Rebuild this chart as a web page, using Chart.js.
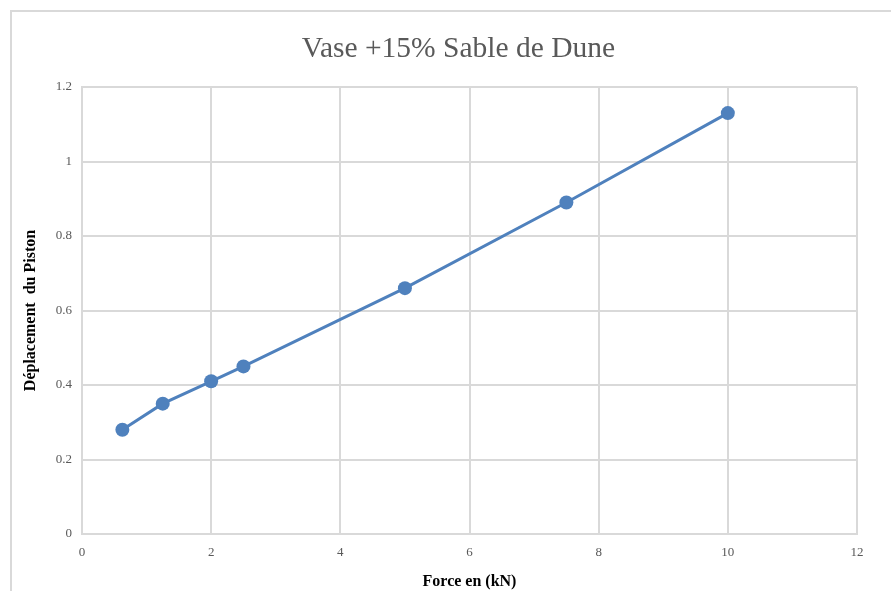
<!DOCTYPE html>
<html>
<head>
<meta charset="utf-8">
<script src="https://cdn.jsdelivr.net/npm/chart.js@4/dist/chart.umd.min.js"></script>
<style>
  html, body { margin: 0; padding: 0; background: #fff; overflow: hidden; }
  #frame {
    position: absolute; left: 10px; top: 10px; width: 1000px; height: 700px;
    border: 2px solid #d9d9d9; box-sizing: border-box;
  }
  #wrap { position: absolute; left: 0; top: 0; width: 891px; height: 591px; }
</style>
</head>
<body>
<div id="frame"></div>
<div id="wrap"><canvas id="vase-chart"></canvas></div>
<script>
// données
const forces = [0.625, 1.25, 2, 2.5, 5, 7.5, 10];
const deplacements = [0.28, 0.35, 0.41, 0.45, 0.66, 0.89, 1.13];

const blue = "#4f81bd";
const gridGray = "#d9d9d9";
const serif = "'Liberation Serif', 'Times New Roman', serif";

const points = forces.map((f, i) => ({ x: f, y: deplacements[i] }));

const cnv = "vase-chart";
new Chart(cnv, {
  type: "scatter",
  data: {
    datasets: [
      {
        label: "Vase +15% Sable de Dune",
        data: points,
        showLine: true,
        borderColor: blue,
        backgroundColor: blue,
        borderWidth: 3,
        pointRadius: 7,
        pointHoverRadius: 7,
        pointBorderWidth: 0
      }
    ]
  },
  options: {
    responsive: true,
    maintainAspectRatio: false,
    animation: false,
    layout: { padding: { left: 21, right: 34, top: 0, bottom: 0 } },
    plugins: {
      legend: { display: false },
      tooltip: { enabled: false },
      title: {
        display: true,
        fullSize: false, // centré sur la zone du graphe
        text: "Vase +15% Sable de Dune   ",
        color: "#595959",
        font: { family: serif, size: 29.5, weight: "normal" },
        padding: { top: 32, bottom: 19.6 }
      }
    },
    scales: {
      x: {
        type: "linear",
        min: 0,
        max: 12,
        ticks: {
          stepSize: 2,
          color: "#595959",
          padding: 11,
          font: { family: serif, size: 13 }
        },
        grid: { color: gridGray, lineWidth: 2, drawTicks: false },
        border: { color: gridGray, width: 2 },
        title: {
          display: true,
          text: "Force en (kN)",
          color: "#000",
          font: { family: serif, size: 16, weight: "bold" },
          padding: { top: 0, bottom: 0 }
        },
        afterFit: (scale) => { scale.height = 57; }
      },
      y: {
        min: 0,
        max: 1.2,
        ticks: {
          stepSize: 0.2,
          color: "#595959",
          padding: 10,
          font: { family: serif, size: 13 },
          callback: (v) => String(+v.toFixed(1))
        },
        grid: { color: gridGray, lineWidth: 2, drawTicks: false },
        border: { color: gridGray, width: 2 },
        title: {
          display: true,
          text: "Déplacement  du Piston",
          color: "#000",
          font: { family: serif, size: 16, weight: "bold" },
          padding: { top: 0, bottom: 0 }
        },
        afterFit: (scale) => { scale.width = 61; }
      }
    }
  }
});
</script>
</body>
</html>
